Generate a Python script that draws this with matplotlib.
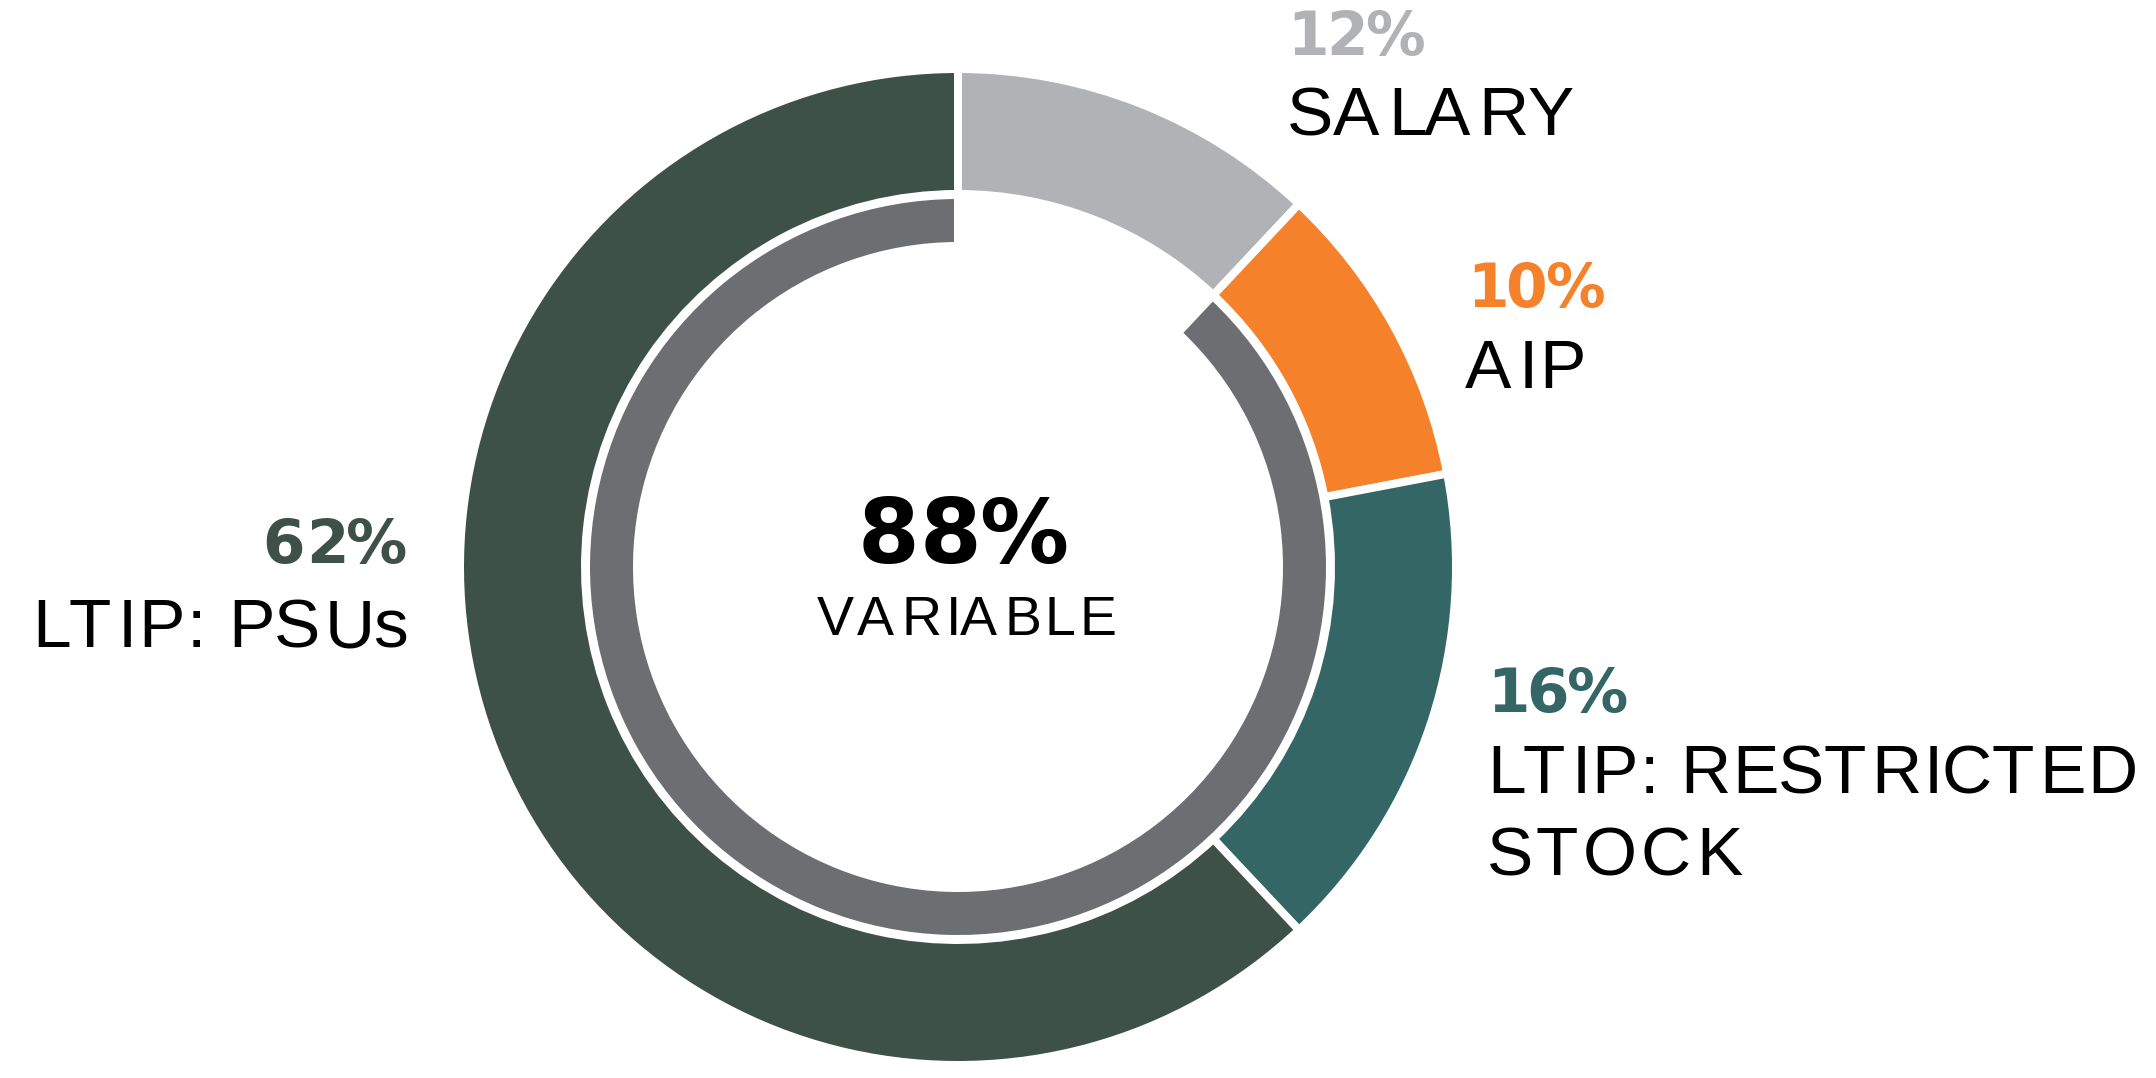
import matplotlib
matplotlib.use("Agg")
import matplotlib.pyplot as plt
from matplotlib import font_manager
from matplotlib.ft2font import FT2Font

W, H = 2156, 1078
DPI = 100

# data (share of target pay, %)
categories = ["SALARY", "AIP", "LTIP: RESTRICTED\nSTOCK", "LTIP: PSUs"]
shares = [12, 10, 16, 62]
fixed = ["SALARY"]
center_label = "VARIABLE"

colors = ["#b1b2b5", "#f5822b", "#336665", "#3d5148"]
inner_gray = "#6d6e72"

variable = sum(v for c, v in zip(categories, shares) if c not in fixed)
fixed_share = 100 - variable

LABEL_FONT = "Liberation Sans"
PCT_FONT = "DejaVu Sans"


def tracked_text(ax, x, y, s, size, track=0.0, ha="left", weight="normal",
                 color="black", family=LABEL_FONT):
    # matplotlib has no letter spacing, so place the glyphs one by one
    fp = font_manager.findfont(font_manager.FontProperties(family=family, weight=weight))
    font = FT2Font(fp)
    px = size * DPI / 72
    font.set_size(px, 72)
    pen, xs, right = 0.0, [], 0.0
    for ch in s:
        g = font.load_char(ord(ch))
        xs.append(pen + g.horiBearingX / 64)
        if ch != " ":
            right = pen + (g.horiBearingX + g.width) / 64
        pen += g.linearHoriAdvance / 65536 + track * px
    left = xs[0]
    width = right - left
    shift = left + {"left": 0, "center": width / 2, "right": width}[ha]
    for ch, cx in zip(s, xs):
        if ch == " ":
            continue
        ax.text(x - shift + cx, H - y, ch, fontsize=size, family=family,
                weight=weight, color=color, ha="left", va="baseline")


fig = plt.figure(figsize=(W / DPI, H / DPI), dpi=DPI)
ax = fig.add_axes([0, 0, 1, 1])

cx, cy = 958, H - 567
lw = 5.76  # white gaps, ~8 px

ax.pie(shares, radius=498, center=(cx, cy), startangle=90, counterclock=False,
       colors=colors, wedgeprops=dict(width=125, edgecolor="white", linewidth=lw))

inner, _ = ax.pie([fixed_share, variable], radius=372, center=(cx, cy), startangle=90,
                  counterclock=False, colors=["white", inner_gray],
                  wedgeprops=dict(width=51, edgecolor="white", linewidth=lw))
inner[0].set_visible(False)

ax.set_xlim(0, W)
ax.set_ylim(0, H)
ax.set_aspect("equal")
ax.axis("off")

pct = [f"{v}%" for v in shares]
names = [c.split("\n") for c in categories]
bold = dict(weight="bold", family=PCT_FONT)

# salary
tracked_text(ax, 1287, 55, pct[0], 43, 0.0, color=colors[0], **bold)
tracked_text(ax, 1287, 135, names[0][0], 50, 0.04)
# aip
tracked_text(ax, 1467, 307, pct[1], 43, 0.0, color=colors[1], **bold)
tracked_text(ax, 1465, 388, names[1][0], 50, 0.02)
# restricted stock
tracked_text(ax, 1487, 712, pct[2], 44, 0.0, color=colors[2], **bold)
tracked_text(ax, 1487, 793, names[2][0], 50, 0.02)
tracked_text(ax, 1487, 875, names[2][1], 50, 0.05)
# psus
tracked_text(ax, 403, 563, pct[3], 44, 0.0, ha="right", color=colors[3], **bold)
tracked_text(ax, 403, 647, names[3][0], 50, 0.025, ha="right")
# centre
tracked_text(ax, 960, 563, f"{variable}%", 64, 0.0, ha="center", **bold)
tracked_text(ax, 963, 635, center_label, 40, 0.06, ha="center")

fig.savefig("out.png", dpi=DPI, facecolor="white")
